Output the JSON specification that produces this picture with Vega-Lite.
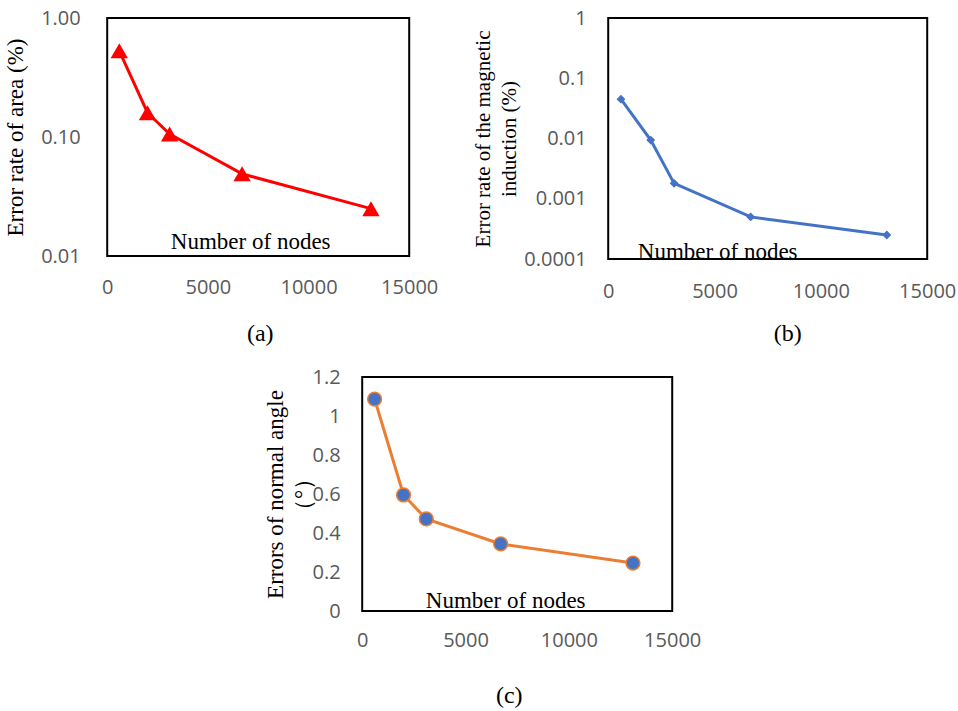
{
  "$schema": "https://vega.github.io/schema/vega-lite/v6.json",
  "padding": {"left": 3, "top": 7, "right": 0, "bottom": 0},
  "background": "white",
  "datasets": {
    "nodes": [
      {"nodes": 600, "area": 0.53, "mag": 0.045, "angle": 1.087},
      {"nodes": 2000, "area": 0.16, "mag": 0.0094, "angle": 0.595},
      {"nodes": 3100, "area": 0.106, "mag": 0.0018, "angle": 0.472},
      {"nodes": 6700, "area": 0.049, "mag": 0.0005, "angle": 0.344},
      {"nodes": 13100, "area": 0.025, "mag": 0.00025, "angle": 0.246}
    ]
  },
  "data": {"name": "nodes"},
  "config": {
    "view": {"stroke": "#000000", "strokeWidth": 2},
    "axis": {
      "labelFont": "Open Sans",
      "labelFontSize": 20,
      "labelColor": "#595959",
      "labelFlush": false,
      "labelOverlap": false,
      "ticks": false,
      "domain": false,
      "grid": false,
      "titleFont": "Liberation Serif",
      "titleFontWeight": "normal",
      "titleColor": "#000000",
      "titleFontSize": 23
    },
    "title": {
      "font": "Liberation Serif",
      "fontSize": 24,
      "fontWeight": "normal",
      "color": "#000000",
      "orient": "bottom",
      "frame": "group",
      "anchor": "middle"
    }
  },
  "vconcat": [
    {
      "hconcat": [
        {
          "width": 302,
          "height": 238,
          "title": {"text": "(a)", "orient": "bottom", "offset": 25, "dx": 2},
          "encoding": {
            "x": {
              "field": "nodes", "type": "quantitative",
              "scale": {"domain": [0, 15000], "nice": false},
              "axis": {
                "values": [0, 5000, 10000, 15000], "format": "d",
                "labelPadding": 21,
                "title": "Number of nodes",
                "titleX": 143, "titleY": -8,
                "titleBaseline": "alphabetic", "titleAlign": "center"
              }
            },
            "y": {
              "field": "area", "type": "quantitative",
              "scale": {"type": "log", "domain": [0.01, 1], "nice": false},
              "axis": {
                "values": [0.01, 0.1, 1], "format": ".2f",
                "labelPadding": 27,
                "title": "Error rate of area (%)",
                "titlePadding": 13
              }
            }
          },
          "layer": [
            {"mark": {"type": "line", "color": "#FF0000", "strokeWidth": 3}},
            {"mark": {"type": "point", "shape": "triangle-up", "filled": true, "color": "#FF0000", "size": 300, "opacity": 1}}
          ]
        },
        {
          "width": 319,
          "height": 241,
          "title": {"text": "(b)", "orient": "bottom", "offset": 21, "dx": 20},
          "encoding": {
            "x": {
              "field": "nodes", "type": "quantitative",
              "scale": {"domain": [0, 15000], "nice": false},
              "axis": {
                "values": [0, 5000, 10000, 15000], "format": "d",
                "labelPadding": 22,
                "title": "Number of nodes",
                "titleX": 109, "titleY": -1,
                "titleBaseline": "alphabetic", "titleAlign": "center"
              }
            },
            "y": {
              "field": "mag", "type": "quantitative",
              "scale": {"type": "log", "domain": [0.0001, 1], "nice": false},
              "axis": {
                "values": [0.0001, 0.001, 0.01, 0.1, 1], "format": "~g",
                "labelPadding": 22,
                "title": ["Error rate of the magnetic", "induction (%)"],
                "titleFontSize": 21,
                "titleLineHeight": 26,
                "titlePadding": 4
              }
            }
          },
          "layer": [
            {"mark": {"type": "line", "color": "#4472C4", "strokeWidth": 3}},
            {"mark": {"type": "point", "shape": "diamond", "filled": true, "color": "#4472C4", "size": 80, "opacity": 1}}
          ]
        }
      ],
      "spacing": 32
    },
    {
      "width": 310,
      "height": 234,
      "title": {"text": "(c)", "orient": "bottom", "offset": 34, "dx": -8},
      "encoding": {
        "x": {
          "field": "nodes", "type": "quantitative",
          "scale": {"domain": [0, 15000], "nice": false},
          "axis": {
            "values": [0, 5000, 10000, 15000], "format": "d",
            "labelPadding": 19,
            "title": "Number of nodes",
            "titleX": 143, "titleY": -4,
            "titleBaseline": "alphabetic", "titleAlign": "center"
          }
        },
        "y": {
          "field": "angle", "type": "quantitative",
          "scale": {"domain": [0, 1.2], "nice": false},
          "axis": {
            "values": [0, 0.2, 0.4, 0.6, 0.8, 1, 1.2], "format": "~g",
            "labelPadding": 22,
            "title": ["Errors of normal angle", "（°）"],
            "titleLineHeight": 28,
            "titlePadding": -3
          }
        }
      },
      "layer": [
        {"mark": {"type": "line", "color": "#ED7D31", "strokeWidth": 3}},
        {"mark": {"type": "circle", "fill": "#4472C4", "stroke": "#ED7D31", "strokeWidth": 1.5, "size": 190, "opacity": 1}}
      ]
    }
  ],
  "spacing": 19,
  "center": true
}
